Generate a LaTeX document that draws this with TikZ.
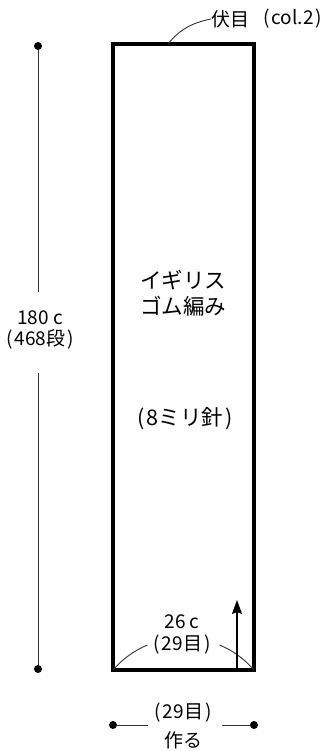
\documentclass[tikz,border=0pt]{standalone}
\usepackage{fontspec}
\setmainfont{Noto Sans CJK JP}
\usetikzlibrary{arrows.meta}
\newcommand{\pp}[1]{(\kern2pt#1\kern2pt)}
\begin{document}
\begin{tikzpicture}
    [x=1pt,y=1pt,
     dimline/.style={line width=0.9pt,black!80},
     dot/.style={circle,fill=black,inner sep=0pt,minimum size=8pt},
     lbl/.style={font=\fontsize{19}{22}\selectfont,inner sep=0pt},
     big/.style={font=\fontsize{21.5}{25}\selectfont,inner sep=0pt},
     up/.style={-{Stealth[length=14pt,width=10pt,inset=2pt]},line width=1.2pt}]
    \useasboundingbox (0,0) rectangle (327,751);
    \draw [line width=4pt] (113,81) rectangle (254,707);
    % inside
    \node [big] (name1) at (183,471) {イギリス};
    \node [big] (name2) at (183,445) {ゴム編み};
    \node [big] (needle) at (185,332) {\pp{8ミリ針}};
    % top edge
    \node [lbl] (bind) at (230,732) {伏目};
    \node [lbl,anchor=west] (col) at (263,732) {\pp{col.2}};
    \coordinate (bindpt) at (168,707);
    \draw [dimline] (bindpt) .. controls (180,722) and (192,728) .. (bind.west);
    % length
    \node [dot] (lt) at (38,705) {};
    \node [dot] (lb) at (38,82) {};
    \node [lbl] (len1) at (40,433) {180 c};
    \node [lbl] (len2) at (40,412) {\pp{468段}};
    \coordinate (lgapt) at (38,459);
    \coordinate (lgapb) at (38,378);
    \draw [dimline] (lt) -- (lgapt);
    \draw [dimline] (lgapb) -- (lb);
    % width
    \node [lbl] (wid1) at (182,129) {26 c};
    \node [lbl] (wid2) at (182,106) {\pp{29目}};
    \draw [dimline] (113,81) arc [start angle=139.3,end angle=112.6,radius=92.4];
    \draw [dimline] (254,81) arc [start angle=40.7,end angle=67.4,radius=92.4];
    \coordinate (arrbot) at (237,81);
    \coordinate (arrtop) at (237,151);
    \draw [up] (arrbot) -- (arrtop);
    % cast on
    \node [dot] (cl) at (113,26) {};
    \node [dot] (cr) at (254,26) {};
    \node [lbl] (cast1) at (183,38) {\pp{29目}};
    \node [lbl] (cast2) at (183,11) {作る};
    \coordinate (cgapl) at (148,26);
    \coordinate (cgapr) at (222,26);
    \draw [dimline] (cl) -- (cgapl);
    \draw [dimline] (cgapr) -- (cr);
  \end{tikzpicture}
\end{document}
